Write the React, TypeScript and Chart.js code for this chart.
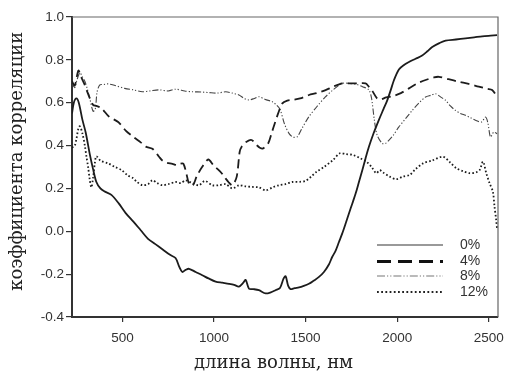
import React, { useEffect, useRef } from 'react';
import { Chart, registerables } from 'chart.js';

Chart.register(...registerables);

// ---- data ----
const seriesLabels = ['0%', '4%', '8%', '12%'];
const xTickValues = [500, 1000, 1500, 2000, 2500];
const yTickValues = [-0.4, -0.2, 0.0, 0.2, 0.4, 0.6, 0.8, 1.0];

const wl0 = [225, 235, 249, 262, 282, 300, 322, 340, 358, 380, 405, 440, 480, 518, 560, 600, 640, 680, 720, 760, 790, 810, 827, 845, 864, 900, 936, 970, 1009, 1045, 1082, 1110, 1136, 1160, 1173, 1191, 1215, 1245, 1282, 1310, 1336, 1360, 1380, 1391, 1405, 1418, 1440, 1464, 1490, 1518, 1545, 1573, 1600, 1627, 1645, 1664, 1682, 1700, 1718, 1736, 1755, 1773, 1791, 1809, 1827, 1845, 1870, 1900, 1925, 1945, 1965, 1982, 2009, 2035, 2064, 2100, 2136, 2165, 2191, 2230, 2264, 2320, 2373, 2420, 2464, 2510, 2545];
const r0 = [0.55, 0.6, 0.62, 0.6, 0.52, 0.46, 0.36, 0.29, 0.23, 0.2, 0.185, 0.17, 0.13, 0.085, 0.045, 0.005, -0.035, -0.06, -0.085, -0.11, -0.125, -0.165, -0.19, -0.18, -0.175, -0.19, -0.205, -0.22, -0.235, -0.24, -0.245, -0.25, -0.258, -0.24, -0.227, -0.268, -0.27, -0.275, -0.29, -0.285, -0.275, -0.265, -0.22, -0.21, -0.255, -0.27, -0.265, -0.262, -0.255, -0.245, -0.23, -0.213, -0.19, -0.155, -0.12, -0.09, -0.05, -0.01, 0.035, 0.082, 0.13, 0.176, 0.23, 0.284, 0.34, 0.393, 0.455, 0.52, 0.57, 0.61, 0.66, 0.705, 0.755, 0.775, 0.79, 0.805, 0.82, 0.84, 0.86, 0.878, 0.89, 0.895, 0.9, 0.905, 0.91, 0.913, 0.915];

const wl4 = [225, 240, 260, 275, 291, 318, 340, 358, 385, 427, 477, 518, 560, 600, 628, 664, 700, 718, 742, 773, 796, 815, 833, 851, 865, 885, 905, 935, 969, 996, 1020, 1042, 1060, 1078, 1100, 1124, 1140, 1151, 1178, 1205, 1232, 1250, 1268, 1296, 1314, 1332, 1350, 1373, 1400, 1427, 1470, 1518, 1560, 1609, 1650, 1700, 1740, 1780, 1827, 1845, 1864, 1890, 1909, 1940, 1973, 2020, 2064, 2110, 2155, 2200, 2227, 2280, 2336, 2390, 2445, 2490, 2518, 2545];
const r4 = [0.7, 0.68, 0.75, 0.72, 0.69, 0.63, 0.59, 0.585, 0.575, 0.535, 0.51, 0.47, 0.44, 0.415, 0.395, 0.385, 0.348, 0.33, 0.32, 0.315, 0.309, 0.315, 0.315, 0.263, 0.22, 0.215, 0.255, 0.3, 0.335, 0.309, 0.29, 0.271, 0.25, 0.231, 0.215, 0.255, 0.37, 0.395, 0.418, 0.426, 0.403, 0.39, 0.387, 0.411, 0.457, 0.504, 0.55, 0.597, 0.61, 0.613, 0.62, 0.636, 0.645, 0.659, 0.675, 0.69, 0.69, 0.69, 0.69, 0.675, 0.655, 0.62, 0.615, 0.625, 0.63, 0.645, 0.667, 0.69, 0.706, 0.718, 0.721, 0.71, 0.698, 0.688, 0.675, 0.665, 0.659, 0.628];

const wl8 = [225, 240, 250, 268, 282, 295, 310, 322, 340, 352, 362, 377, 400, 422, 460, 513, 560, 609, 650, 700, 750, 791, 840, 882, 930, 973, 1020, 1064, 1100, 1136, 1165, 1191, 1220, 1245, 1280, 1318, 1340, 1360, 1385, 1409, 1430, 1454, 1480, 1518, 1560, 1609, 1650, 1700, 1740, 1780, 1810, 1845, 1860, 1875, 1890, 1918, 1936, 1954, 1980, 2009, 2045, 2082, 2120, 2155, 2185, 2209, 2240, 2264, 2290, 2318, 2345, 2373, 2400, 2427, 2460, 2482, 2495, 2509, 2527, 2545];
const r8 = [0.69, 0.67, 0.7, 0.74, 0.72, 0.7, 0.66, 0.62, 0.56, 0.57, 0.65, 0.683, 0.685, 0.688, 0.68, 0.667, 0.66, 0.651, 0.655, 0.66, 0.655, 0.663, 0.655, 0.651, 0.65, 0.647, 0.645, 0.651, 0.645, 0.636, 0.62, 0.613, 0.62, 0.628, 0.615, 0.605, 0.59, 0.57, 0.5, 0.457, 0.44, 0.441, 0.48, 0.535, 0.58, 0.628, 0.66, 0.69, 0.69, 0.685, 0.675, 0.66, 0.62, 0.52, 0.45, 0.41, 0.41, 0.424, 0.45, 0.487, 0.525, 0.564, 0.6, 0.627, 0.635, 0.642, 0.625, 0.611, 0.585, 0.564, 0.55, 0.541, 0.53, 0.518, 0.51, 0.533, 0.505, 0.44, 0.463, 0.455];

const wl12 = [225, 240, 249, 260, 268, 282, 295, 304, 313, 322, 331, 340, 350, 358, 380, 422, 460, 495, 530, 555, 580, 609, 640, 664, 690, 718, 750, 791, 820, 845, 880, 918, 950, 991, 1030, 1064, 1100, 1136, 1170, 1209, 1245, 1282, 1320, 1354, 1390, 1427, 1469, 1500, 1530, 1560, 1600, 1650, 1687, 1720, 1759, 1800, 1832, 1860, 1886, 1904, 1922, 1959, 1995, 2030, 2068, 2100, 2141, 2190, 2250, 2290, 2323, 2360, 2395, 2430, 2450, 2468, 2486, 2504, 2522, 2531, 2540, 2545];
const r12 = [0.39, 0.4, 0.43, 0.48, 0.49, 0.456, 0.4, 0.347, 0.3, 0.24, 0.205, 0.25, 0.32, 0.35, 0.33, 0.317, 0.3, 0.286, 0.26, 0.25, 0.23, 0.215, 0.22, 0.238, 0.225, 0.215, 0.22, 0.23, 0.225, 0.238, 0.225, 0.215, 0.235, 0.215, 0.215, 0.22, 0.2, 0.215, 0.21, 0.207, 0.205, 0.191, 0.205, 0.215, 0.22, 0.23, 0.231, 0.235, 0.255, 0.278, 0.3, 0.333, 0.364, 0.36, 0.356, 0.34, 0.325, 0.3, 0.271, 0.285, 0.275, 0.255, 0.243, 0.255, 0.263, 0.29, 0.317, 0.33, 0.348, 0.32, 0.294, 0.28, 0.271, 0.275, 0.286, 0.325, 0.271, 0.224, 0.185, 0.115, 0.053, 0.01];

const xTitle = 'длина волны, нм';
const yTitle = 'коэффициента корреляции';

// ---- styles ----
const lineStyles = [
  { color: '#1c1c1c', width: 1.8, dash: [] as number[] },
  { color: '#1c1c1c', width: 1.8, dash: [9, 5] },
  { color: '#444444', width: 1.1, dash: [6, 2, 1.2, 2, 1.2, 2] },
  { color: '#1c1c1c', width: 1.8, dash: [1.6, 2.2] },
];
const legendStyles = [
  { color: '#777777', width: 1.4, dash: [] as number[] },
  { color: '#111111', width: 3, dash: [14, 7] },
  { color: '#777777', width: 1.2, dash: [8, 2, 1.2, 2, 1.2, 2] },
  { color: '#222222', width: 2, dash: [1.8, 2.4] },
];

const toPoints = (xs: number[], ys: number[]) => xs.map((x, i) => ({ x, y: ys[i] }));

const framePlugin = {
  id: 'frameAndLegend',
  afterDraw(chart: any) {
    const { ctx, chartArea: a } = chart;
    ctx.save();
    ctx.strokeStyle = '#666';
    ctx.lineWidth = 1.2;
    ctx.setLineDash([]);
    ctx.beginPath();
    ctx.moveTo(a.left, a.top);
    ctx.lineTo(a.right, a.top);
    ctx.lineTo(a.right, a.bottom);
    ctx.stroke();

    const rowsY = [a.bottom - 72, a.bottom - 55.5, a.bottom - 41, a.bottom - 25];
    const x1 = a.right - 121;
    const x2 = a.right - 55;
    const tx = a.right - 38;
    ctx.font = '14px "Liberation Sans", Arial, sans-serif';
    ctx.fillStyle = '#333';
    ctx.textBaseline = 'middle';
    ctx.textAlign = 'left';
    seriesLabels.forEach((lab, i) => {
      const s = legendStyles[i];
      ctx.strokeStyle = s.color;
      ctx.lineWidth = s.width;
      ctx.setLineDash(s.dash);
      ctx.beginPath();
      ctx.moveTo(x1, rowsY[i]);
      ctx.lineTo(x2, rowsY[i]);
      ctx.stroke();
      ctx.fillText(lab, tx, rowsY[i]);
    });
    ctx.restore();
  },
};

export default function App() {
  const ref = useRef<HTMLCanvasElement | null>(null);

  useEffect(() => {
    document.body.style.margin = '0';
    const canvas = ref.current;
    if (!canvas) return;
    const series = [toPoints(wl0, r0), toPoints(wl4, r4), toPoints(wl8, r8), toPoints(wl12, r12)];
    const tickFont = { family: '"Liberation Sans", Arial, sans-serif', size: 13.5 };
    const titleFont = { family: '"DejaVu Serif", serif', size: 18, lineHeight: 1.2 };
    const chart = new Chart(canvas, {
      type: 'line',
      data: {
        datasets: series.map((pts, i) => ({
          label: seriesLabels[i],
          data: pts,
          borderColor: lineStyles[i].color,
          borderWidth: lineStyles[i].width,
          borderDash: lineStyles[i].dash,
          pointRadius: 0,
          tension: 0.3,
          fill: false,
        })),
      },
      options: {
        animation: false,
        responsive: false,
        devicePixelRatio: 1,
        layout: { padding: { top: 17, right: 20, left: 0, bottom: 0 } },
        plugins: { legend: { display: false }, tooltip: { enabled: false } },
        scales: {
          x: {
            type: 'linear',
            min: 225,
            max: 2550,
            afterBuildTicks: (s: any) => {
              s.ticks = xTickValues.map((v) => ({ value: v }));
            },
            afterFit: (s: any) => {
              s.height = 57;
            },
            grid: { display: true, drawOnChartArea: false, drawTicks: true, tickLength: 5, color: '#333', lineWidth: 1.2 },
            border: { display: true, color: '#333', width: 2 },
            ticks: { font: tickFont, color: '#333', padding: 8, maxRotation: 0, callback: (v: any) => String(v) },
            title: { display: true, text: xTitle + '\u00a0\u00a0\u00a0\u00a0', font: titleFont, color: '#222', padding: { top: 0, bottom: 0 } },
          },
          y: {
            type: 'linear',
            min: -0.4,
            max: 1.0,
            afterBuildTicks: (s: any) => {
              s.ticks = yTickValues.map((v) => ({ value: v }));
            },
            afterFit: (s: any) => {
              s.width = 72;
            },
            grid: { display: true, drawOnChartArea: false, drawTicks: true, tickLength: 6, color: '#333', lineWidth: 1.2 },
            border: { display: true, color: '#333', width: 2 },
            ticks: {
              font: tickFont,
              color: '#333',
              padding: 2,
              callback: (v: any) => Number(v).toFixed(1),
            },
            title: { display: true, text: '\u00a0\u00a0' + yTitle, font: titleFont, color: '#222', padding: { top: 7, bottom: 0 } },
          },
        },
      },
      plugins: [framePlugin],
    });
    return () => chart.destroy();
  }, []);

  return (
    <div style={{ width: 518, height: 374, position: 'relative', background: '#fff' }}>
      <canvas ref={ref} width={518} height={374} style={{ display: 'block', width: 518, height: 374 }} />
    </div>
  );
}
